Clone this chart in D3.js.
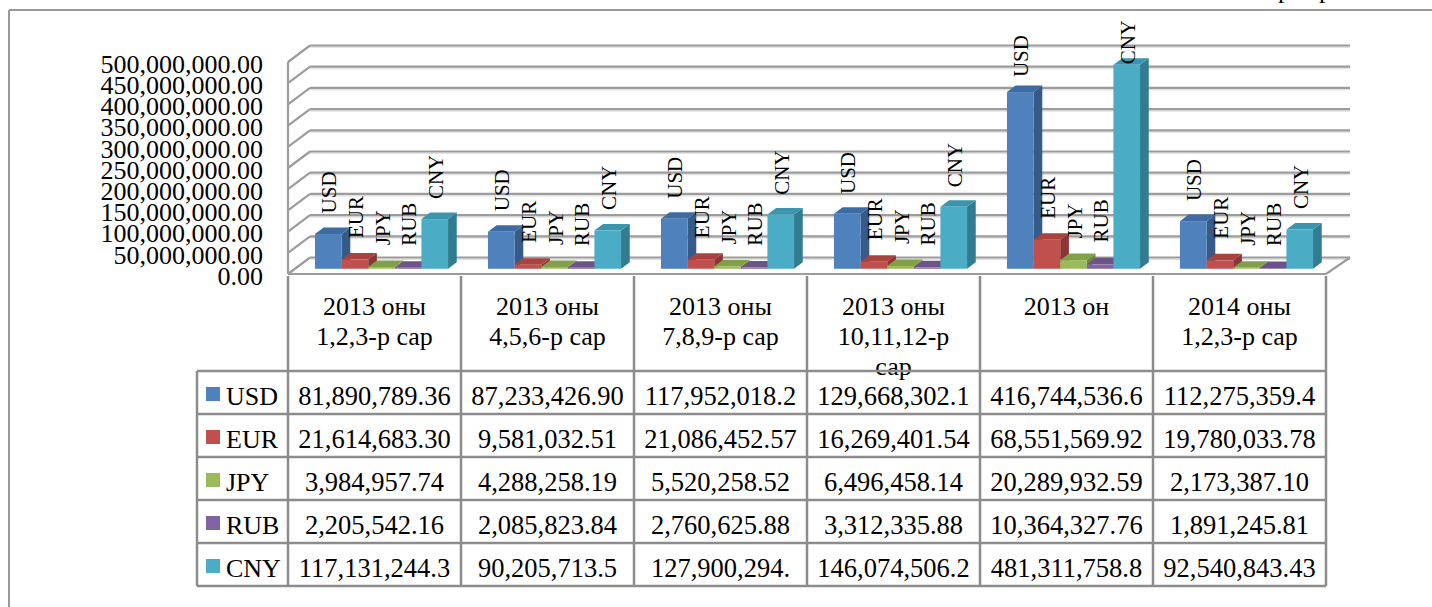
<!DOCTYPE html>
<html>
<head>
<meta charset="utf-8">
<script src="https://cdn.jsdelivr.net/npm/d3@7"></script>
<style>
  body { margin: 0; background: #fff; }
  svg text { font-family: "Liberation Serif", "Times New Roman", serif; fill: #000; }
</style>
</head>
<body>
<div id="chart"></div>
<script>
// categories (table header lines)
var categories = [
  ["2013 оны", "1,2,3-р сар"],
  ["2013 оны", "4,5,6-р сар"],
  ["2013 оны", "7,8,9-р сар"],
  ["2013 оны", "10,11,12-р", "сар"],
  ["2013 он"],
  ["2014 оны", "1,2,3-р сар"]
];
var series = ["USD", "EUR", "JPY", "RUB", "CNY"];

// values
var usd = [81890789.36, 87233426.90, 117952018.2, 129668302.1, 416744536.6, 112275359.4];
var eur = [21614683.30, 9581032.51, 21086452.57, 16269401.54, 68551569.92, 19780033.78];
var jpy = [3984957.74, 4288258.19, 5520258.52, 6496458.14, 20289932.59, 2173387.10];
var rub = [2205542.16, 2085823.84, 2760625.88, 3312335.88, 10364327.76, 1891245.81];
var cny = [117131244.3, 90205713.5, 127900294, 146074506.2, 481311758.8, 92540843.43];

// table cell texts as printed (Excel cuts the long ones)
var usdText = ["81,890,789.36", "87,233,426.90", "117,952,018.2", "129,668,302.1", "416,744,536.6", "112,275,359.4"];
var eurText = ["21,614,683.30", "9,581,032.51", "21,086,452.57", "16,269,401.54", "68,551,569.92", "19,780,033.78"];
var jpyText = ["3,984,957.74", "4,288,258.19", "5,520,258.52", "6,496,458.14", "20,289,932.59", "2,173,387.10"];
var rubText = ["2,205,542.16", "2,085,823.84", "2,760,625.88", "3,312,335.88", "10,364,327.76", "1,891,245.81"];
var cnyText = ["117,131,244.3", "90,205,713.5", "127,900,294.", "146,074,506.2", "481,311,758.8", "92,540,843.43"];

var yTicks = [0, 50e6, 100e6, 150e6, 200e6, 250e6, 300e6, 350e6, 400e6, 450e6, 500e6];

var values = [usd, eur, jpy, rub, cny];
var texts = [usdText, eurText, jpyText, rubText, cnyText];

var colors = {
  front: ["#4f81bd", "#c0504d", "#9bbb59", "#8064a2", "#4bacc6"],
  side:  ["#365b88", "#8b3634", "#6f873e", "#5b4776", "#317c90"],
  top:   ["#3f6ba3", "#a8433f", "#82a04a", "#6c5489", "#3b95ad"]
};

var W = 1432, H = 607;
var svg = d3.select("#chart").append("svg")
    .attr("width", W)
    .attr("height", H);

// outer frame
svg.append("line").attr("x1", 9).attr("y1", 10).attr("x2", W).attr("y2", 10)
    .attr("stroke", "#9a9a9a").attr("stroke-width", 2);
svg.append("line").attr("x1", 9).attr("y1", 10).attr("x2", 9).attr("y2", H)
    .attr("stroke", "#9a9a9a").attr("stroke-width", 2);

// bits of page text cut by the frame
svg.append("text").attr("x", 1278).attr("y", -2).style("font-size", "26px").text("р");
svg.append("text").attr("x", 1319).attr("y", -2).style("font-size", "26px").text("р");

// scales
var left = 288, right = 1326;
var x0 = d3.scaleBand().domain(d3.range(categories.length)).range([left, right]);
var x1 = d3.scaleBand().domain(series).range([0, x0.bandwidth()])
    .paddingInner(0).paddingOuter(0.75);
var y = d3.scaleLinear().domain([0, 500e6]).range([274, 62]);

// depth of the box
var DX = 22, DY = -16.5;
var f1 = 0.318, f2 = 0.714;

// walls / gridlines
var grid = svg.append("g");
yTicks.forEach(function(t) {
  var yf = y(t), yb = y(t) + DY;
  grid.append("line").attr("x1", left + DX).attr("y1", yb + 1.8).attr("x2", right + DX + 2).attr("y2", yb + 1.8)
      .attr("stroke", "#e2e2e2").attr("stroke-width", 1.5);
  grid.append("line").attr("x1", left + DX).attr("y1", yb).attr("x2", right + DX + 2).attr("y2", yb)
      .attr("stroke", "#9c9c9c").attr("stroke-width", 2.2);
  grid.append("line").attr("x1", left).attr("y1", yf).attr("x2", left + DX).attr("y2", yb)
      .attr("stroke", "#9c9c9c").attr("stroke-width", 2.2);
});
grid.append("line").attr("x1", left).attr("y1", y(500e6)).attr("x2", left).attr("y2", y(0))
    .attr("stroke", "#9c9c9c").attr("stroke-width", 2.2);
// floor
grid.append("line").attr("x1", left).attr("y1", y(0)).attr("x2", right).attr("y2", y(0))
    .attr("stroke", "#9c9c9c").attr("stroke-width", 2.2);
grid.append("line").attr("x1", right).attr("y1", y(0)).attr("x2", right + DX + 2).attr("y2", y(0) + DY)
    .attr("stroke", "#9c9c9c").attr("stroke-width", 2.2);

// y axis labels
var yAxis = d3.axisLeft(y).tickValues(yTicks).tickFormat(d3.format(",.2f")).tickSize(0).tickPadding(0);
var ax = svg.append("g")
    .attr("transform", "translate(263,2)")
    .call(yAxis);
ax.select(".domain").remove();
ax.selectAll("text")
    .style("font-family", "'Liberation Serif', 'Times New Roman', serif")
    .style("font-size", "26px")
    .attr("fill", "#000");

// bars
var bars = svg.append("g");
var bw = x1.bandwidth();
categories.forEach(function(c, i) {
  series.forEach(function(s, j) {
    var v = values[j][i];
    var X = x0(i) + x1(s);
    var fx = DX * f1, fy = DY * f1, bx = DX * f2, by = DY * f2;
    var top = y(v), bot = y(0);
    var g = bars.append("g");
    g.append("polygon")
        .attr("points", [[X + bw + fx, top + fy], [X + bw + bx, top + by], [X + bw + bx, bot + by], [X + bw + fx, bot + fy]].join(" "))
        .attr("fill", colors.side[j]);
    g.append("polygon")
        .attr("points", [[X + fx, top + fy], [X + bw + fx, top + fy], [X + bw + bx, top + by], [X + bx, top + by]].join(" "))
        .attr("fill", colors.top[j]);
    g.append("rect")
        .attr("x", X + fx).attr("y", top + fy)
        .attr("width", bw).attr("height", bot - top)
        .attr("fill", colors.front[j]);
  });
});

// rotated series labels above the bars (kept inside the chart area)
var labels = svg.append("g");
categories.forEach(function(c, i) {
  series.forEach(function(s, j) {
    var v = values[j][i];
    var cx = x0(i) + x1(s) + DX * f1 + bw / 2 + 1;
    var h = y(0) - y(v);
    var ty = y(v) + DY * f1 - (22 - 0.04 * h);
    var t = labels.append("text")
        .attr("dy", "0.34em")
        .style("font-size", "21px")
        .text(s);
    var len = t.node().getComputedTextLength();
    if (ty - len < 20) ty = 20 + len;
    t.attr("transform", "translate(" + cx + "," + ty + ") rotate(-90)");
  });
});

// data table
var tableTop = 276, headerBottom = 371, rowH = 43, legendLeft = 197;
var tbl = svg.append("g");

// header text
categories.forEach(function(c, i) {
  var cx = x0(i) + x0.bandwidth() / 2;
  c.forEach(function(line, k) {
    tbl.append("text")
        .attr("x", cx).attr("y", tableTop + 39 + k * 30)
        .attr("text-anchor", "middle")
        .style("font-size", "26px")
        .text(line);
  });
});

// rows
series.forEach(function(s, j) {
  var ry = headerBottom + j * rowH;
  tbl.append("rect")
      .attr("x", legendLeft + 9).attr("y", ry + 16)
      .attr("width", 14).attr("height", 14)
      .attr("fill", colors.front[j]);
  tbl.append("text")
      .attr("x", legendLeft + 29).attr("y", ry + 34)
      .style("font-size", "26px")
      .text(s);
  texts[j].forEach(function(t, i) {
    tbl.append("text")
        .attr("x", x0(i) + x0.bandwidth() / 2).attr("y", ry + 34)
        .attr("text-anchor", "middle")
        .style("font-size", "26.5px")
        .text(t);
  });
});

// table lines
var lc = "#8c8c8c", lw = 2.5;
var tableBottom = headerBottom + series.length * rowH;
for (var k = 0; k <= series.length; k++) {
  var ly = headerBottom + k * rowH;
  tbl.append("line").attr("x1", legendLeft).attr("y1", ly).attr("x2", right).attr("y2", ly)
      .attr("stroke", lc).attr("stroke-width", lw);
}
tbl.append("line").attr("x1", legendLeft).attr("y1", headerBottom).attr("x2", legendLeft).attr("y2", tableBottom)
    .attr("stroke", lc).attr("stroke-width", lw);
d3.range(categories.length + 1).forEach(function(i) {
  var lx = i < categories.length ? x0(i) : right;
  tbl.append("line").attr("x1", lx).attr("y1", tableTop).attr("x2", lx).attr("y2", tableBottom)
      .attr("stroke", lc).attr("stroke-width", lw);
});
</script>
</body>
</html>
